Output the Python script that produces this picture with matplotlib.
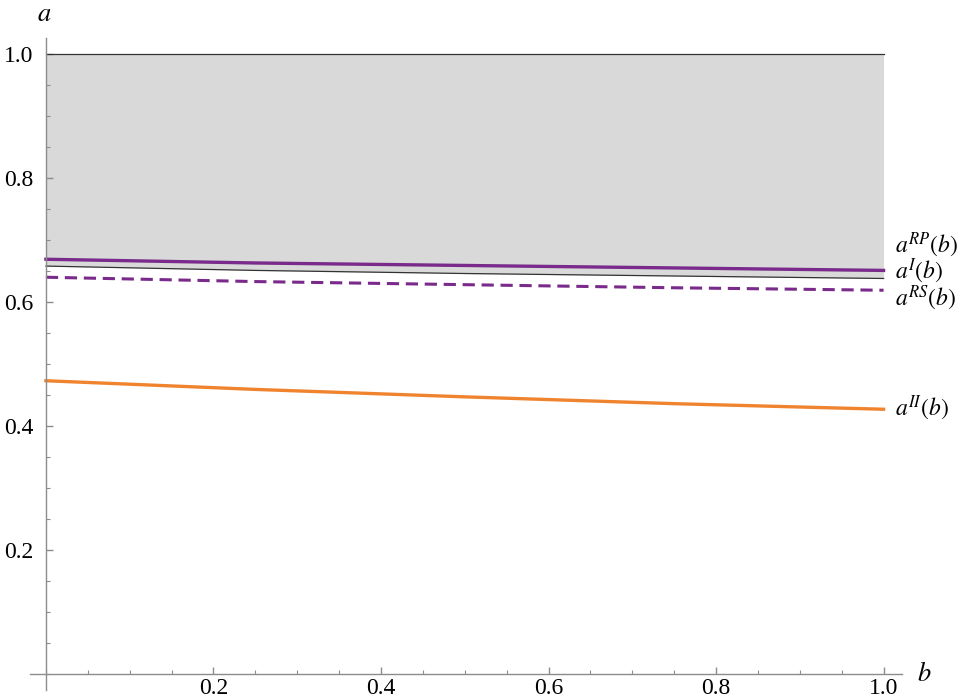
import matplotlib
matplotlib.use("Agg")
import matplotlib.pyplot as plt
import numpy as np
from matplotlib.ticker import MultipleLocator

plt.rcParams['font.family'] = ['Liberation Serif', 'DejaVu Serif']
plt.rcParams['mathtext.fontset'] = 'stix'

# values
b = [0.0, 0.25, 0.5, 0.75, 1.0]
a_rp = [0.669, 0.663, 0.659, 0.655, 0.651]
a_i = [0.658, 0.651, 0.646, 0.642, 0.638]
a_rs = [0.640, 0.633, 0.628, 0.623, 0.619]
a_ii = [0.473, 0.459, 0.447, 0.436, 0.427]
ticks = [0.2, 0.4, 0.6, 0.8, 1.0]

purple = "#7a2a8a"
orange = "#f0842e"
axcol = "#8c8c8c"

fig = plt.figure(figsize=(9.68, 6.98), dpi=100)
ax = fig.add_axes([30/968, 1 - 690/698, 872/968, 652/698])
ax.set_xlim(-0.019, 1.022)
ax.set_ylim(-0.026, 1.026)

# gray region between a^I and 1
ax.fill_between(b, a_i, 1.0, color="#d9d9d9", lw=0)
ax.plot([0, 1], [1.0, 1.0], color="#333333", lw=0.9)
ax.plot(b, a_i, color="#333333", lw=0.9)
ax.plot(b, a_rp, color=purple, lw=2.4)
ax.plot(b, a_rs, color=purple, lw=2.2, ls=(0, (4, 2.2)))
ax.plot(b, a_ii, color=orange, lw=2.4)

# axes through the origin, Mathematica style
for s in ["top", "right"]:
    ax.spines[s].set_visible(False)
for s in ["left", "bottom"]:
    ax.spines[s].set_position(("data", 0))
    ax.spines[s].set_color(axcol)
    ax.spines[s].set_linewidth(1.0)

ax.set_xticks(ticks)
ax.set_yticks(ticks)
ax.set_xticklabels([f"{t:.1f}" for t in ticks])
ax.set_yticklabels([f"{t:.1f}" for t in ticks])
ax.xaxis.set_minor_locator(MultipleLocator(0.05))
ax.yaxis.set_minor_locator(MultipleLocator(0.05))
ax.tick_params(which="major", direction="in", length=5, width=1, color=axcol, labelsize=17)
ax.tick_params(axis="x", which="major", pad=3)
ax.tick_params(axis="y", which="major", pad=9)
ax.tick_params(which="minor", direction="in", length=3, width=0.8, color=axcol)

ax.text(-0.002, 1.063, "$a$", fontsize=19, ha="center", va="center", clip_on=False)
ax.text(1.04, 0.0, "$b$", fontsize=19, ha="left", va="center", clip_on=False)

ax.text(1.014, 0.692, "$a^{RP}(b)$", fontsize=17, ha="left", va="center", clip_on=False)
ax.text(1.014, 0.649, "$a^{I}(b)$", fontsize=17, ha="left", va="center", clip_on=False)
ax.text(1.014, 0.606, "$a^{RS}(b)$", fontsize=17, ha="left", va="center", clip_on=False)
ax.text(1.014, 0.429, "$a^{II}(b)$", fontsize=17, ha="left", va="center", clip_on=False)

fig.savefig("out.png", dpi=100)
